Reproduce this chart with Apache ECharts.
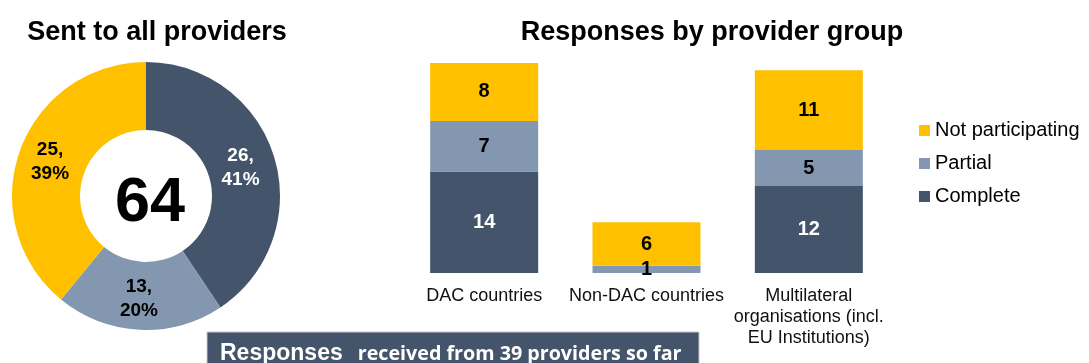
<!DOCTYPE html>
<html>
<head>
<meta charset="utf-8">
<script src="https://cdn.jsdelivr.net/npm/echarts@6/dist/echarts.min.js"></script>
<style>
  html, body { margin: 0; padding: 0; background: #fff; }
  #chart { width: 1089px; height: 363px; }
</style>
</head>
<body>
<div id="chart"></div>
<script>
// categories and values
var categories = ["DAC countries", "Non-DAC countries", "Multilateral\norganisations (incl.\nEU Institutions)"];
var complete = [14, 0, 12];
var partial = [7, 1, 5];
var notParticipating = [8, 6, 11];

var sentNames = ["Complete", "Partial", "Not participating"];
var sentValues = [26, 13, 25];

var DARK = "#44546a", LIGHT = "#8497b0", YELLOW = "#ffc000";
var FONT = "Liberation Sans, Arial, sans-serif";

var total = sentValues.reduce(function (a, b) { return a + b; }, 0);

var myChart = echarts.init(document.getElementById("chart"), null, { renderer: "canvas" });

function barLabel(color) {
  return {
    show: true,
    position: "inside",
    color: color,
    fontFamily: FONT,
    fontWeight: "bold",
    fontSize: 20,
    formatter: function (p) { return p.value ? p.value : ""; }
  };
}

var options = {
  animation: false,
  title: [
    {
      text: "Sent to all providers",
      left: 152, top: 14, textAlign: "center",
      textStyle: { fontFamily: FONT, fontWeight: "bold", fontSize: 27, color: "#000" }
    },
    {
      text: "Responses by provider group",
      left: 707, top: 14, textAlign: "center",
      textStyle: { fontFamily: FONT, fontWeight: "bold", fontSize: 27, color: "#000" }
    },
    {
      text: String(total),
      left: 145, top: 167, textAlign: "center",
      textStyle: { fontFamily: FONT, fontWeight: "bold", fontSize: 63, color: "#000" }
    }
  ],
  legend: {
    orient: "vertical",
    left: 914, top: 114,
    icon: "rect",
    itemWidth: 11, itemHeight: 11,
    itemGap: 10,
    data: ["Not participating", "Partial", "Complete"],
    textStyle: { fontFamily: FONT, fontSize: 20, color: "#000", lineHeight: 23 }
  },
  grid: { left: 403, width: 487, top: 63, height: 210 },
  xAxis: {
    type: "category",
    data: categories,
    axisLine: { show: false },
    axisTick: { show: false },
    axisLabel: {
      margin: 13,
      fontFamily: FONT, fontSize: 18, color: "#111", lineHeight: 21,
      interval: 0
    }
  },
  yAxis: {
    type: "value",
    min: 0,
    max: function (v) { return v.max; },
    show: false,
    splitLine: { show: false }
  },
  series: [
    {
      type: "pie",
      center: [146, 196],
      radius: [66, 134],
      startAngle: 90,
      percentPrecision: 0,
      silent: true,
      label: {
        position: "inside",
        formatter: "{c},\n{d}%",
        fontFamily: FONT, fontWeight: "bold", fontSize: 19, lineHeight: 24
      },
      labelLine: { show: false },
      data: [
        { name: sentNames[0], value: sentValues[0], itemStyle: { color: DARK }, label: { color: "#fff", offset: [-4, 2] } },
        { name: sentNames[1], value: sentValues[1], itemStyle: { color: LIGHT }, label: { color: "#000", offset: [-2, 0] } },
        { name: sentNames[2], value: sentValues[2], itemStyle: { color: YELLOW }, label: { color: "#000", offset: [1, 0] } }
      ]
    },
    {
      name: "Complete", type: "bar", stack: "all", barWidth: 108,
      itemStyle: { color: DARK }, label: barLabel("#fff"), data: complete
    },
    {
      name: "Partial", type: "bar", stack: "all", barWidth: 108,
      itemStyle: { color: LIGHT }, label: barLabel("#000"), data: partial
    },
    {
      name: "Not participating", type: "bar", stack: "all", barWidth: 108,
      itemStyle: { color: YELLOW }, label: barLabel("#000"), data: notParticipating
    }
  ],
  graphic: [
    {
      type: "rect",
      shape: { x: 207, y: 332, width: 492, height: 40 },
      style: { fill: DARK, stroke: "#c8c8c8", lineWidth: 1 }
    },
    {
      type: "text",
      x: 220, y: 354,
      style: {
        text: "{a|Responses}{b|received from 39 providers so far}",
        verticalAlign: "middle",
        rich: {
          a: { fontFamily: FONT, fontWeight: "bold", fontSize: 23, fill: "#fff" },
          b: { fontFamily: "Open Sans, sans-serif", fontWeight: "bold", fontSize: 19.7, fill: "#fff", padding: [0, 0, 0, 15] }
        }
      }
    }
  ]
};

myChart.setOption(options);
</script>
</body>
</html>
